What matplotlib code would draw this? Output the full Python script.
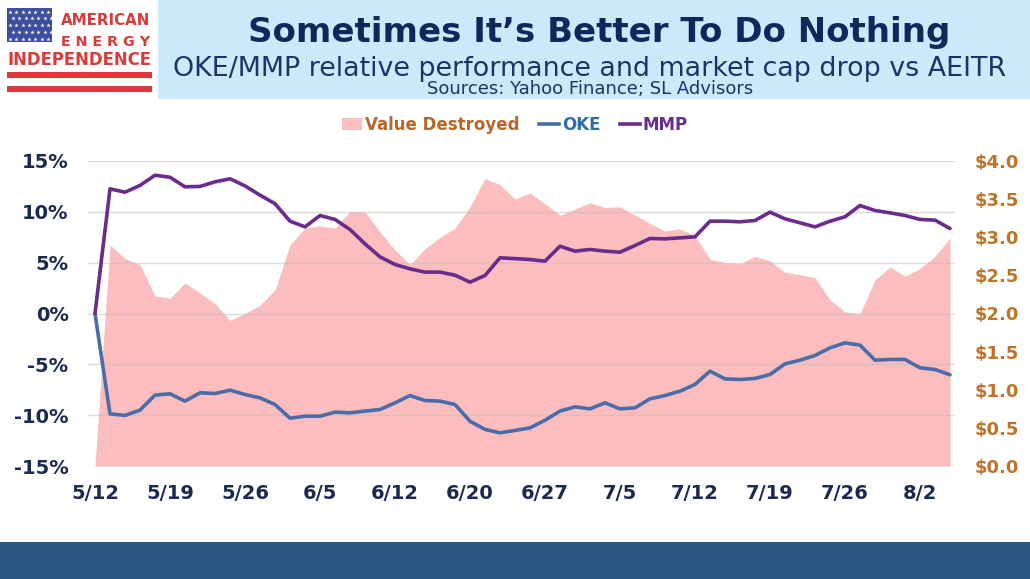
import matplotlib
matplotlib.use("Agg")
import matplotlib.pyplot as plt
from matplotlib.patches import Rectangle, Patch
from matplotlib.lines import Line2D

# ---------------- data ----------------
dates = ["5/12", "5/15", "5/16", "5/17", "5/18", "5/19", "5/22", "5/23", "5/24", "5/25",
         "5/26", "5/30", "5/31", "6/1", "6/2", "6/5", "6/6", "6/7", "6/8", "6/9",
         "6/12", "6/13", "6/14", "6/15", "6/16", "6/20", "6/21", "6/22", "6/23", "6/26",
         "6/27", "6/28", "6/29", "6/30", "7/3", "7/5", "7/6", "7/7", "7/10", "7/11",
         "7/12", "7/13", "7/14", "7/17", "7/18", "7/19", "7/20", "7/21", "7/24", "7/25",
         "7/26", "7/27", "7/28", "7/31", "8/1", "8/2", "8/3", "8/4"]

mmp = [0.0, 12.26, 11.93, 12.6, 13.6, 13.4, 12.46, 12.5, 12.95, 13.25,
       12.55, 11.64, 10.8, 9.08, 8.52, 9.64, 9.25, 8.26, 6.85, 5.57,
       4.82, 4.39, 4.07, 4.07, 3.77, 3.08, 3.74, 5.48, 5.40, 5.31,
       5.15, 6.62, 6.13, 6.30, 6.13, 6.03, 6.69, 7.38, 7.34, 7.44,
       7.54, 9.08, 9.08, 9.02, 9.15, 9.97, 9.31, 8.92, 8.52, 9.08,
       9.51, 10.62, 10.13, 9.9, 9.64, 9.25, 9.18, 8.36]

oke = [0.0, -9.87, -10.03, -9.5, -8.03, -7.9, -8.62, -7.8, -7.87, -7.54,
       -7.97, -8.3, -8.95, -10.3, -10.1, -10.1, -9.7, -9.77, -9.6, -9.44,
       -8.79, -8.07, -8.56, -8.62, -8.95, -10.6, -11.4, -11.74, -11.5, -11.25,
       -10.5, -9.6, -9.18, -9.38, -8.79, -9.38, -9.28, -8.39, -8.07, -7.64,
       -6.98, -5.67, -6.43, -6.49, -6.39, -6.0, -4.95, -4.59, -4.13, -3.38,
       -2.89, -3.11, -4.59, -4.52, -4.52, -5.34, -5.51, -6.03]

value_destroyed = [0.0, 2.90, 2.72, 2.64, 2.23, 2.20, 2.40, 2.27, 2.13, 1.91,
                   2.00, 2.11, 2.31, 2.90, 3.12, 3.15, 3.12, 3.34, 3.33, 3.07,
                   2.83, 2.64, 2.85, 3.00, 3.12, 3.40, 3.77, 3.69, 3.50, 3.58,
                   3.44, 3.29, 3.37, 3.45, 3.39, 3.40, 3.29, 3.18, 3.08, 3.11,
                   3.02, 2.71, 2.67, 2.65, 2.75, 2.69, 2.54, 2.51, 2.47, 2.18,
                   2.02, 2.00, 2.44, 2.61, 2.49, 2.59, 2.75, 2.99]

left_ticks = [-15, -10, -5, 0, 5, 10, 15]
right_ticks = [0.0, 0.5, 1.0, 1.5, 2.0, 2.5, 3.0, 3.5, 4.0]
tick_every = 5

title = "Sometimes It\u2019s Better To Do Nothing"
subtitle = "OKE/MMP relative performance and market cap drop vs AEITR"
sources = "Sources: Yahoo Finance; SL Advisors"

# ---------------- styling ----------------
W, H = 1030, 579
NAVY = "#1C2A4F"
ORANGE = "#BE7428"
PINK = "#FBBDBD"
OKE_C = "#4A6CA8"
MMP_C = "#6A2C8A"

plt.rcParams["font.family"] = ["DejaVu Sans"]

fig = plt.figure(figsize=(W / 100, H / 100), dpi=100)
fig.patch.set_facecolor("white")

# background / decoration axes in pixel coordinates
bg = fig.add_axes([0, 0, 1, 1], zorder=-10)
bg.set_xlim(0, W)
bg.set_ylim(H, 0)
bg.axis("off")

bg.add_patch(Rectangle((158, 0), W - 158, 99, color="#CDE8FA", lw=0))
bg.add_patch(Rectangle((0, 542), W, H - 542, color="#2B5783", lw=0))

# logo
RED = "#D93A3A"
bg.add_patch(Rectangle((7, 8), 45, 34, color="#3D4E9E", lw=0))
for r in range(5):
    for c in range(7):
        bg.plot(10 + c * 6.3 + (3 if r % 2 else 0), 11.5 + r * 6.8, marker="*",
                color="white", ms=3.2, mec="none")
bg.add_patch(Rectangle((7, 72), 145, 6, color=RED, lw=0))
bg.add_patch(Rectangle((7, 86), 145, 6, color=RED, lw=0))

renderer = fig.canvas.get_renderer()


def fit(t, width):
    bb = t.get_window_extent(renderer)
    t.set_fontsize(t.get_fontsize() * width / bb.width)


t = bg.text(106, 25, "AMERICAN", ha="center", va="baseline", color=RED,
            fontweight="bold", fontsize=12)
fit(t, 89)
t = bg.text(106, 46, "E N E R G Y", ha="center", va="baseline", color=RED,
            fontweight="bold", fontsize=12)
fit(t, 89)
t = bg.text(79.5, 65, "INDEPENDENCE", ha="center", va="baseline", color=RED,
            fontweight="bold", fontsize=12)
fit(t, 144)

# header text
t = bg.text(599, 42, title, ha="center", va="baseline", color="#10275C",
            fontweight="bold", fontsize=26)
fit(t, 702)
t = bg.text(590, 76, subtitle, ha="center", va="baseline", color="#1B3366",
            fontsize=18)
fit(t, 835)
t = bg.text(590, 94, sources, ha="center", va="baseline", color="#1B3366",
            fontsize=12)
fit(t, 324)

# ---------------- main chart ----------------
x = list(range(len(dates)))
ax_l, ax_r, ax_t, ax_b = 88, 955, 161, 466
ax = fig.add_axes([ax_l / W, (H - ax_b) / H, (ax_r - ax_l) / W, (ax_b - ax_t) / H])
ax2 = ax.twinx()
ax.set_zorder(2)
ax2.set_zorder(1)
ax.patch.set_visible(False)

ax2.fill_between(x, 0, value_destroyed, color=PINK, lw=0)
ax2.set_ylim(0, 4)
ax2.set_yticks(right_ticks)
ax2.set_yticklabels(["${:.1f}".format(v) for v in right_ticks])

ax.plot(x, oke, color=OKE_C, lw=2.6, solid_joinstyle="round", solid_capstyle="round")
ax.plot(x, mmp, color=MMP_C, lw=2.6, solid_joinstyle="round", solid_capstyle="round")
ax.set_ylim(-15, 15)
ax.set_yticks(left_ticks)
ax.set_yticklabels(["{}%".format(v) for v in left_ticks])
ax.set_xlim((88 - 95) / 15, (955 - 95) / 15)
ax.set_xticks(x[::tick_every])
ax.set_xticklabels(dates[::tick_every])

ax.yaxis.grid(True, color="#BFBFBF", lw=1.0, alpha=0.55)
ax.xaxis.grid(False)
for a in (ax, ax2):
    for s in a.spines.values():
        s.set_visible(False)

ax.tick_params(axis="y", length=0, pad=14, labelsize=14, labelcolor=NAVY)
ax.tick_params(axis="x", length=0, pad=13, labelsize=14, labelcolor=NAVY)
ax2.tick_params(axis="y", length=0, pad=14, labelsize=13, labelcolor=ORANGE)
for lab in ax.get_yticklabels() + ax.get_xticklabels() + ax2.get_yticklabels():
    lab.set_fontweight("bold")

# legend
handles = [Patch(facecolor=PINK, edgecolor="none"),
           Line2D([], [], color=OKE_C, lw=2.6),
           Line2D([], [], color=MMP_C, lw=2.6)]
labels = ["Value Destroyed", "OKE", "MMP"]
leg = fig.legend(handles, labels, loc="center", bbox_to_anchor=(515 / W, 1 - 125 / H),
                 ncol=3, frameon=False, prop={"weight": "bold", "size": 12},
                 handlelength=1.2, handleheight=0.7, handletextpad=0.15,
                 columnspacing=1.2, borderaxespad=0)
for txt, col in zip(leg.get_texts(), ["#B8662A", "#2E6EA6", "#6A2C91"]):
    txt.set_color(col)

fig.savefig("out.png", dpi=100, facecolor="white")
